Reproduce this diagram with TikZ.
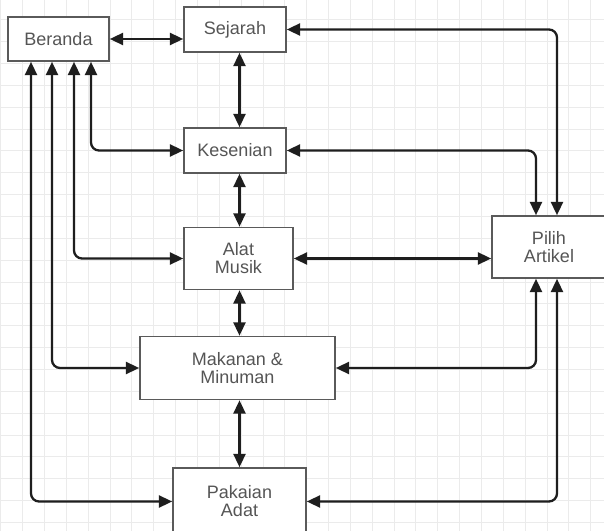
\documentclass[tikz,border=0pt]{standalone}
\usepackage{fontspec}
\setmainfont{Liberation Sans}
\usetikzlibrary{arrows.meta}
\newlength\pxl \setlength\pxl{0.75pt}
\definecolor{boxc}{HTML}{5A5A5A}
\definecolor{linec}{HTML}{1E1E1E}
\definecolor{textc}{HTML}{555555}
\definecolor{gridc}{HTML}{EBEBEB}
\begin{document}
\begin{tikzpicture}[x=0.75pt,y=-0.75pt,
  box/.style={draw=boxc, line width=1.6\pxl, fill=white, text=textc,
    font=\fontsize{13.5}{13.5}\selectfont, align=center, inner sep=0pt},
  link/.style={draw=linec, line width=2.3\pxl, rounded corners=8\pxl,
    {Triangle[length=10pt,width=9pt]}-{Triangle[length=10pt,width=9pt]}},
  gridline/.style={draw=gridc, line width=1\pxl}]
\useasboundingbox (0,0) rectangle (604,531);
\fill[white] (0,0) rectangle (604,531);
\foreach \i in {0,...,28} \draw[gridline] (0.8+21.85*\i,0) -- (0.8+21.85*\i,531);
\foreach \j in {0,...,25} \draw[gridline] (0,-2+21.85*\j) -- (604,-2+21.85*\j);

\node[box, minimum width=101\pxl, minimum height=44\pxl] (ber) at (58.5,39) {Beranda};
\node[box, minimum width=102\pxl, minimum height=45\pxl] (sej) at (235,29.5) {Sejarah};
\node[box, minimum width=102\pxl, minimum height=45\pxl] (kes) at (235,150.5) {Kesenian};
\node[box, minimum width=109\pxl, minimum height=62\pxl] (mus) at (238.5,258.5) {Alat\\Musik};
\node[box, minimum width=195\pxl, minimum height=63\pxl] (mak) at (237.5,368) {Makanan \&\\Minuman};
\node[box, minimum width=133\pxl, minimum height=67\pxl] (pak) at (239.5,501.5) {Pakaian\\Adat};
\node[box, minimum width=114\pxl, minimum height=62\pxl] (pil) at (549,247) {Pilih\\Artikel};

% Beranda <-> Sejarah
\draw[link] (ber.east) -- (ber.east -| sej.west);
% central spine
\draw[link] (sej.south -| pak) -- (kes.north -| pak);
\draw[link] (kes.south -| pak) -- (mus.north -| pak);
\draw[link] (mus.south -| pak) -- (mak.north -| pak);
\draw[link] (mak.south -| pak) -- (pak.north);
% Beranda to the rest
\draw[link] ([xshift=32.5\pxl]ber.south) |- (kes.west);
\draw[link] ([xshift=15.5\pxl]ber.south) |- (mus.west);
\draw[link] ([xshift=-6.5\pxl]ber.south) |- (mak.west);
\draw[link] ([xshift=-27.5\pxl]ber.south) |- (pak.west);
% to Pilih Artikel
\draw[link] (sej.east) -| ([xshift=8\pxl]pil.north);
\draw[link] (kes.east) -| ([xshift=-13\pxl]pil.north);
\draw[link] (mus.east) -- (mus.east -| pil.west);
\draw[link] (mak.east) -| ([xshift=-13\pxl]pil.south);
\draw[link] (pak.east) -| ([xshift=8\pxl]pil.south);
\end{tikzpicture}
\end{document}
